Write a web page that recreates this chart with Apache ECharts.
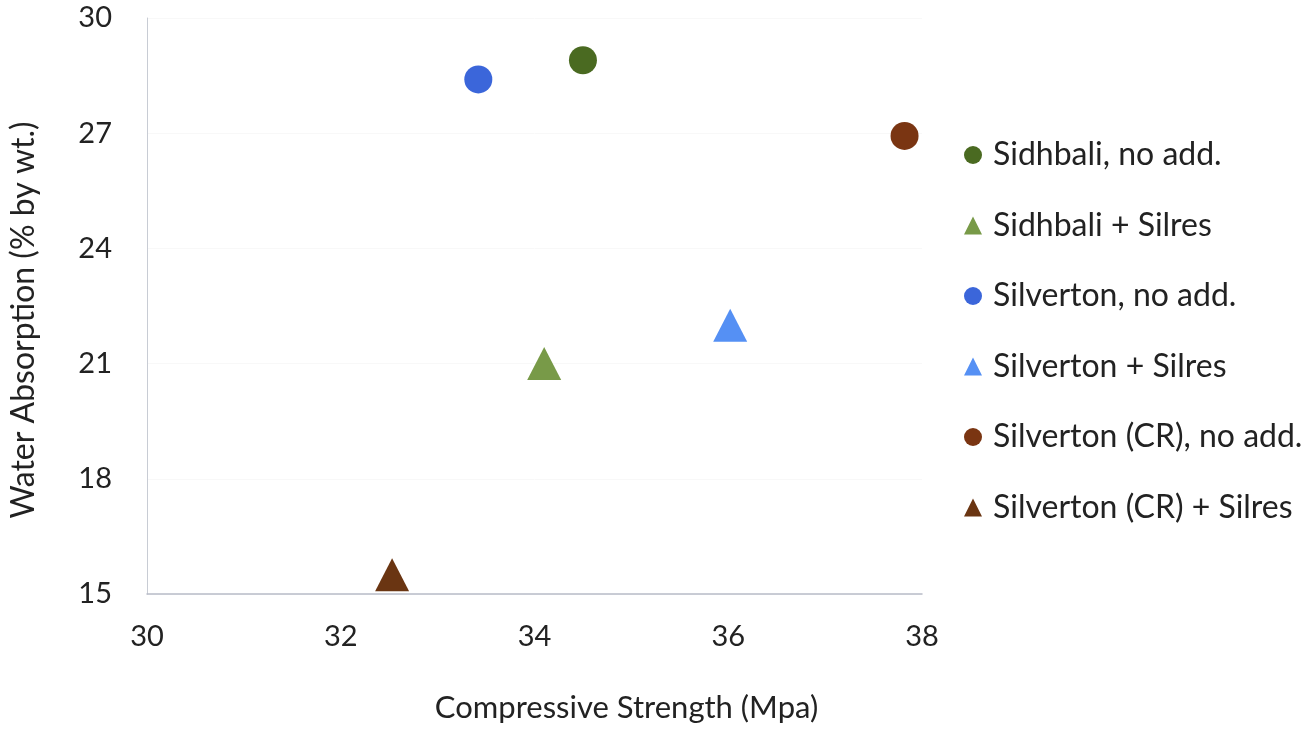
<!DOCTYPE html>
<html>
<head>
<meta charset="utf-8">
<script src="https://cdn.jsdelivr.net/npm/echarts@6/dist/echarts.min.js"></script>
<style>html,body{margin:0;padding:0;background:#fff;}#c{width:1310px;height:734px;}</style>
</head>
<body>
<div id="c"></div>
<script>
const seriesNames = ["Sidhbali, no add.", "Sidhbali + Silres", "Silverton, no add.", "Silverton + Silres", "Silverton (CR), no add.", "Silverton (CR) + Silres"];
const strength = [34.5, 34.1, 33.42, 36.02, 37.82, 32.53];
const absorption = [28.9, 21.0, 28.4, 22.0, 26.93, 15.5];
const symbols = ["circle", "triangle", "circle", "triangle", "circle", "triangle"];
const colors = ["#4a6a21", "#789a48", "#3b66da", "#5590f4", "#7a3512", "#6a3512"];
const xTicks = [30, 32, 34, 36, 38];
const yTicks = [15, 18, 21, 24, 27, 30];

const font = "Lato, 'Open Sans', sans-serif";
const chart = echarts.init(document.getElementById('c'));
chart.setOption({
  animation: false,
  textStyle: {fontFamily: font},
  grid: {left: 145, top: 18, width: 777, height: 576, containLabel: false},
  xAxis: {
    type: 'value', min: xTicks[0], max: xTicks[xTicks.length-1], interval: 2,
    name: 'Compressive Strength (Mpa)', nameLocation: 'middle', nameGap: 98,
    nameTextStyle: {fontSize: 31, color: '#222', fontFamily: font, padding: [0, 0, 0, 184]},
    axisLine: {show: true, lineStyle: {color: '#b8bcc8', width: 1.5}},
    axisTick: {show: false},
    axisLabel: {fontSize: 29, color: '#222', margin: 28, fontFamily: font},
    splitLine: {show: false}
  },
  yAxis: {
    type: 'value', min: yTicks[0], max: yTicks[yTicks.length-1], interval: 3,
    name: 'Water Absorption (% by wt.)', nameLocation: 'middle', nameGap: 107,
    nameTextStyle: {fontSize: 32, color: '#222', fontFamily: font, padding: [0, 28, 0, 0]},
    axisLine: {show: true, lineStyle: {color: '#c8ccd4', width: 1}},
    axisTick: {show: false},
    axisLabel: {fontSize: 29, color: '#222', margin: 35, fontFamily: font},
    splitLine: {show: true, lineStyle: {color: '#f8f8f8', width: 1}}
  },
  legend: {
    orient: 'vertical', left: 964, top: 139, itemGap: 38.5, padding: 0,
    itemWidth: 18, itemHeight: 18,
    textStyle: {fontSize: 32, color: '#222', lineHeight: 30, fontFamily: font, padding: [0, 0, 0, 6]},
    data: seriesNames.map((n, i) => ({name: n, icon: symbols[i], itemStyle: {color: colors[i]}}))
  },
  series: seriesNames.map((n, i) => ({
    name: n, type: 'scatter',
    symbol: symbols[i],
    symbolSize: symbols[i] === 'circle' ? 28 : [34, 33],
    itemStyle: {color: colors[i], opacity: 1},
    data: [[strength[i], absorption[i]]]
  }))
});
</script>
</body>
</html>
